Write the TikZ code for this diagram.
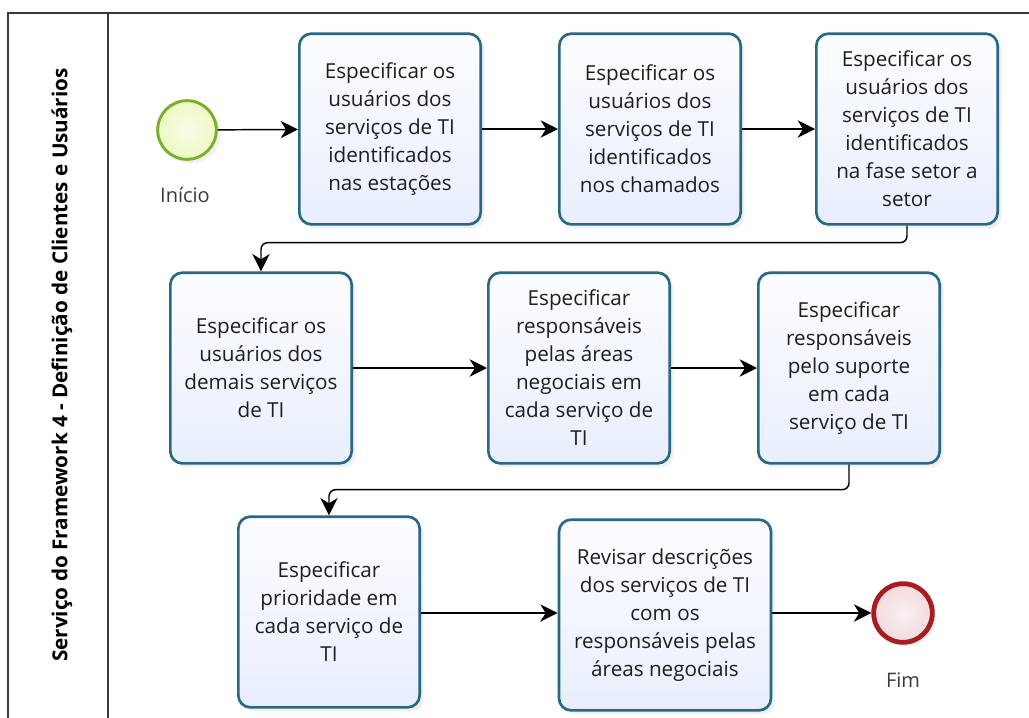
\documentclass[tikz,border=0pt]{standalone}
\usepackage{fontspec}
\setmainfont{Open Sans}
\usetikzlibrary{arrows.meta,shadows}

\definecolor{laneInk}{RGB}{58,58,58}
\definecolor{textInk}{RGB}{30,30,30}
\definecolor{taskEdge}{RGB}{38,104,134}
\definecolor{taskTop}{RGB}{252,253,255}
\definecolor{taskBottom}{RGB}{232,238,252}
\definecolor{startEdge}{RGB}{120,176,42}
\definecolor{startFill}{RGB}{238,248,196}
\definecolor{endEdge}{RGB}{166,28,32}
\definecolor{endFill}{RGB}{242,218,220}

\begin{document}
\begin{tikzpicture}[x=0.75pt,y=-0.75pt,
  task/.style={draw=taskEdge,line width=2pt,rounded corners=9pt,
    top color=taskTop,bottom color=taskBottom,
    minimum width=136pt,minimum height=143pt,inner sep=3pt,
    align=center,text=textInk,font=\fontsize{15.5}{21}\selectfont,
    drop shadow={opacity=0.12,shadow xshift=3pt,shadow yshift=-3pt}},
  wide/.style={task,minimum width=159pt},
  startev/.style={circle,draw=startEdge,line width=2.2pt,inner sep=0pt,
    minimum size=44pt,inner color=startFill!40,outer color=startFill,
    drop shadow={opacity=0.12,shadow xshift=3pt,shadow yshift=-3pt}},
  endev/.style={circle,draw=endEdge,line width=3.6pt,inner sep=0pt,
    minimum size=44pt,inner color=endFill!40,outer color=endFill,
    drop shadow={opacity=0.12,shadow xshift=3pt,shadow yshift=-3pt}},
  evlabel/.style={text=laneInk,font=\fontsize{15}{17}\selectfont},
  flow/.style={draw=black,line width=1.1pt,rounded corners=5pt,
    -{Stealth[length=13pt,width=13pt,inset=4pt]}}]
\useasboundingbox (0,0) rectangle (1029,718);
% pool frame and lane
\draw[laneInk,line width=1.5pt] (1029,13) -- (8,13) -- (8,718);
\draw[laneInk,line width=1.5pt] (108,13) -- (108,718);
\node[rotate=90,text=black,font=\bfseries\fontsize{15.5}{17}\selectfont] (lane) at (62,365)
  {Serviço do Framework 4 - Definição de Clientes e Usuários};
% events
\node[startev] (start) at (187,130) {};
\node[evlabel] (startlabel) at (185,195) {Início};
\node[endev] (stop) at (903,613) {};
\node[evlabel] (stoplabel) at (903,680) {Fim};
% first row
\node[task] (taskA) at (390,129) {Especificar os\\usuários dos\\serviços de TI\\identificados\\nas estações};
\node[task] (taskB) at (650,129) {Especificar os\\usuários dos\\serviços de TI\\identificados\\nos chamados};
\node[task] (taskC) at (907,129) {Especificar os\\usuários dos\\serviços de TI\\identificados\\na fase setor a\\setor};
% second row
\node[task] (taskD) at (261,368) {Especificar os\\usuários dos\\demais serviços\\de TI};
\node[task] (taskE) at (579,368) {Especificar\\responsáveis\\pelas áreas\\negociais em\\cada serviço de\\TI};
\node[task] (taskF) at (849,368) {Especificar\\responsáveis\\pelo suporte\\em cada\\serviço de TI};
% third row
\node[task] (taskG) at (329,612) {Especificar\\prioridade em\\cada serviço de\\TI};
\node[wide] (taskH) at (665,615) {Revisar descrições\\dos serviços de TI\\com os\\responsáveis pelas\\áreas negociais};
% sequence flows
\draw[flow] (start) -- (taskA);
\draw[flow] (taskA) -- (taskB);
\draw[flow] (taskB) -- (taskC);
\draw[flow] (taskC.south) -- ++(0,17) -| (taskD.north);
\draw[flow] (taskD) -- (taskE);
\draw[flow] (taskE) -- (taskF);
\draw[flow] (taskF.south) -- ++(0,25) -| (taskG.north);
\draw[flow] (taskG.east |- stop) -- (taskH.west |- stop);
\draw[flow] (taskH.east |- stop) -- (stop);
\end{tikzpicture}
\end{document}
